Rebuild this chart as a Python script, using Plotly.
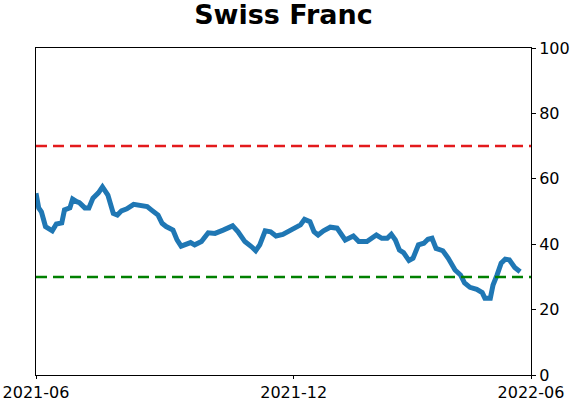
import plotly.graph_objects as go

dates = [
    "2021-06-01", "2021-06-03", "2021-06-05", "2021-06-08", "2021-06-13", "2021-06-16",
    "2021-06-20", "2021-06-22", "2021-06-26", "2021-06-28", "2021-07-01", "2021-07-03",
    "2021-07-07", "2021-07-10", "2021-07-13", "2021-07-17", "2021-07-20", "2021-07-24",
    "2021-07-28", "2021-07-31", "2021-08-03", "2021-08-07", "2021-08-12", "2021-08-17",
    "2021-08-22", "2021-08-25", "2021-08-30", "2021-09-02", "2021-09-05", "2021-09-10",
    "2021-09-13", "2021-09-16", "2021-09-23", "2021-09-26", "2021-10-01", "2021-10-06",
    "2021-10-11", "2021-10-17", "2021-10-24", "2021-10-28", "2021-11-02", "2021-11-07",
    "2021-11-10", "2021-11-13", "2021-11-17", "2021-11-21", "2021-11-25", "2021-11-30",
    "2021-12-04", "2021-12-09", "2021-12-13", "2021-12-16", "2021-12-20", "2021-12-23",
    "2021-12-26", "2021-12-30", "2022-01-04", "2022-01-09", "2022-01-15", "2022-01-21",
    "2022-01-25", "2022-01-31", "2022-02-07", "2022-02-11", "2022-02-15", "2022-02-18",
    "2022-02-21", "2022-02-24", "2022-02-27", "2022-03-03", "2022-03-06", "2022-03-10",
    "2022-03-14", "2022-03-17", "2022-03-20", "2022-03-23", "2022-03-28", "2022-04-01",
    "2022-04-06", "2022-04-10", "2022-04-13", "2022-04-17", "2022-04-22", "2022-04-26",
    "2022-04-28", "2022-05-02", "2022-05-04", "2022-05-07", "2022-05-10", "2022-05-13",
    "2022-05-16", "2022-05-20", "2022-05-24",
]
values = [
    55.6, 51.1, 49.9, 45.4, 44.1, 46.2,
    46.5, 50.5, 51.1, 53.8, 53.0, 52.7,
    51.1, 51.1, 54.1, 55.7, 57.5, 55.0,
    49.4, 48.9, 50.2, 50.8, 52.2, 51.7,
    51.5, 50.5, 48.9, 46.4, 45.4, 44.3,
    41.3, 39.4, 40.5, 39.8, 40.8, 43.5,
    43.3, 44.3, 45.6, 43.8, 40.8, 39.2,
    38.0, 39.8, 44.1, 43.8, 42.5, 43.0,
    43.8, 45.2, 45.9, 47.6, 46.9, 43.8,
    42.8, 44.1, 45.2, 44.9, 41.3, 42.5,
    40.8, 40.8, 42.8, 41.8, 41.8, 43.0,
    41.3, 38.2, 37.4, 35.0, 35.7, 39.8,
    40.3, 41.5, 41.8, 38.7, 38.0, 35.7,
    32.1, 30.6, 28.2, 26.8, 26.2, 25.2,
    23.5, 23.5, 27.5, 30.6, 34.2, 35.4,
    35.2, 32.9, 31.6,
]

title = "Swiss Franc"
upper_level = 70
lower_level = 30
x_range = ["2021-06-01", "2022-06-01"]
x_tickvals = ["2021-06-01", "2021-12-08", "2022-06-01"]
x_ticktext = ["2021-06", "2021-12", "2022-06"]
y_tickvals = [0, 20, 40, 60, 80, 100]

fig = go.Figure()
fig.add_trace(go.Scatter(
    x=dates, y=values, mode="lines",
    line=dict(color="#1f77b4", width=5),
    showlegend=False,
))
fig.add_shape(type="line", xref="paper", yref="y", x0=0, x1=1,
              y0=upper_level, y1=upper_level,
              line=dict(color="#e31a1c", width=2.5, dash="11px,6px"))
fig.add_shape(type="line", xref="paper", yref="y", x0=0, x1=1,
              y0=lower_level, y1=lower_level,
              line=dict(color="#008000", width=2.5, dash="11px,6px"))

fig.update_layout(
    width=571, height=402,
    margin=dict(l=36, r=40, t=48, b=27, autoexpand=False),
    paper_bgcolor="white", plot_bgcolor="white",
    font=dict(family="DejaVu Sans", size=16, color="black"),
    title=dict(text="<b>" + title + "</b>", x=(36 + 531) / 2 / 571, xanchor="center",
               y=1 - 15 / 402, yanchor="middle", yref="container",
               font=dict(size=27, family="DejaVu Sans", color="black")),
    xaxis=dict(type="date", range=x_range, tickvals=x_tickvals, ticktext=x_ticktext,
               automargin=False,
               showgrid=False, zeroline=False, showline=True, linecolor="black",
               linewidth=1, mirror=True, ticks="outside", ticklen=3, tickcolor="black"),
    yaxis=dict(range=[0, 100], tickvals=y_tickvals, side="right", automargin=False,
               showgrid=False, zeroline=False, showline=True, linecolor="black",
               linewidth=1, mirror=True, ticks="outside", ticklen=4, tickcolor="black"),
)

fig.write_html("out.html")
